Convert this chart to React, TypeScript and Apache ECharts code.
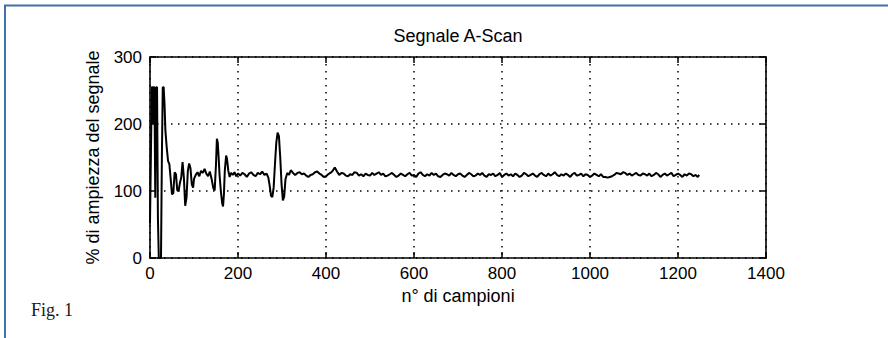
import React, { useEffect, useRef } from "react";
import * as echarts from "echarts";

const chartTitle = "Segnale A-Scan";
const xAxisName = "n° di campioni";
const yAxisName = "% di ampiezza del segnale";
const figureLabel = "Fig. 1";

const xTicks = { min: 0, max: 1400, interval: 200 };
const yTicks = { min: 0, max: 300, interval: 100 };

// sample index (n° di campioni)
const sampleIndex = [
  0, 2, 4, 6, 7, 8, 10, 12, 14, 16, 18, 20, 23, 25, 27, 29, 31, 33, 35, 38,
  41, 44, 47, 50, 53, 56, 59, 62, 65, 68, 71, 74, 77, 80, 83, 86, 89, 92, 95, 98,
  100, 104, 108, 112, 116, 120, 124, 128, 132, 136, 140, 144, 147, 150, 152, 154, 156, 158, 161, 164,
  166, 168, 170, 173, 175, 178, 181, 184, 188, 192, 196, 200, 205, 210, 215, 220, 225, 230, 235, 240,
  245, 250, 255, 260, 265, 269, 272, 275, 278, 281, 284, 287, 290, 293, 296, 299, 302, 305, 308, 312,
  316, 320, 325,
  330, 335, 340, 345, 350, 355, 360, 365, 370, 375, 380, 385, 390, 395, 400, 405, 410, 415, 420, 425,
  430, 435, 440, 445, 450, 455, 460, 465, 470, 475, 480, 485, 490, 495, 500, 505, 510, 515, 520, 525,
  530, 535, 540, 545, 550, 555, 560, 565, 570, 575, 580, 585, 590, 595, 600, 605, 610, 615, 620, 625,
  630, 635, 640, 645, 650, 655, 660, 665, 670, 675, 680, 685, 690, 695, 700, 705, 710, 715, 720, 725,
  730, 735, 740, 745, 750, 755, 760, 765, 770, 775, 780, 785, 790, 795, 800, 805, 810, 815, 820, 825,
  830, 835, 840, 845, 850, 855, 860, 865, 870, 875, 880, 885, 890, 895, 900, 905, 910, 915, 920, 925,
  930, 935, 940, 945, 950, 955, 960, 965, 970, 975, 980, 985, 990, 995, 1000, 1005, 1010, 1015, 1020, 1025,
  1030, 1035, 1040, 1045, 1050, 1055, 1060, 1065, 1070, 1075, 1080, 1085, 1090, 1095, 1100, 1105, 1110, 1115, 1120, 1125,
  1130, 1135, 1140, 1145, 1150, 1155, 1160, 1165, 1170, 1175, 1180, 1185, 1190, 1195, 1200, 1205, 1210, 1215, 1220, 1225,
  1230, 1235, 1240, 1245, 1248,
];

// % di ampiezza del segnale
const amplitude = [
  52, 150, 255, 255, 200, 255, 255, 90, 255, 255, 60, 0, 0, 0, 150, 255, 255, 230, 190, 165,
  145, 140, 118, 95, 97, 128, 125, 101, 100, 112, 120, 143, 120, 78, 90, 130, 141, 134, 110, 105,
  118, 124, 128, 122, 130, 127, 133, 126, 122, 129, 118, 104, 101, 140, 178, 172, 150, 125, 100, 82,
  77, 95, 130, 153, 148, 130, 121, 127, 124, 128, 122, 126, 123, 127, 125, 121, 126, 128, 124, 122,
  127, 125, 129, 124, 126, 120, 108, 93, 91, 105, 140, 172, 187, 182, 150, 110, 86, 92, 118, 127,
  124, 131, 127,
  124, 127, 128, 125, 126, 123, 121, 124, 125, 128, 129, 126, 124, 121, 122, 125, 127, 130, 135, 129,
  124, 127, 126, 123, 122, 125, 124, 128, 127, 123, 125, 122, 126, 124, 123, 127, 124, 126, 128, 124,
  126, 122, 123, 125, 127, 124, 121, 123, 126, 124, 122, 125, 127, 123, 124, 121, 126, 128, 124, 122,
  125, 123, 127, 124, 126, 122, 121, 124, 126, 125, 123, 127, 124, 122, 125, 126, 123, 121, 124, 127,
  125, 122, 123, 126, 124, 127, 123, 121, 125, 124, 126, 122, 124, 127, 121, 124, 126, 123, 125, 122,
  126, 124, 121, 123, 127, 125, 122, 124, 126, 123, 121, 125, 127, 124, 122, 126, 123, 125, 128, 124,
  122, 125, 123, 126, 124, 121, 125, 127, 123, 124, 126, 122, 125, 124, 121, 123, 126, 124, 122, 125,
  121, 121, 120, 121, 122, 124, 127, 126, 125, 128, 127, 124, 126, 123, 125, 127, 124, 123, 126, 125,
  123, 126, 122, 124, 127, 125, 121, 124, 126, 123, 125, 127, 122, 124, 126, 124, 121, 125, 123, 126,
  125, 122, 124, 121, 124,
];

const textFont = "'Liberation Sans', Arial, sans-serif";

export default function App() {
  const ref = useRef<HTMLDivElement>(null);

  useEffect(() => {
    if (!ref.current) return;
    const chart = echarts.init(ref.current, null, { renderer: "svg" });
    const points = sampleIndex.map((x, i) => [x, amplitude[i]]);
    const dotted = { color: "#000", width: 1.5, type: [1.5, 5.5] as number[] };
    const tickStyle = () => ({ show: true, inside: true, length: 6, lineStyle: { color: "#000", width: 1.5 } });
    const axisLine = () => ({ show: true, onZero: false, lineStyle: { color: "#000", width: 1.6 } });
    const plainLabel = (v: number) => String(v);
    chart.setOption({
      animation: false,
      backgroundColor: "#fff",
      title: {
        text: chartTitle,
        left: 458,
        top: 27,
        padding: 0,
        textAlign: "center",
        textStyle: { fontFamily: textFont, fontSize: 18, fontWeight: "normal", color: "#000" },
      },
      grid: { left: 150, right: 122, top: 57, bottom: 80, containLabel: false },
      xAxis: [
        {
          type: "value",
          position: "bottom",
          min: xTicks.min,
          max: xTicks.max,
          interval: xTicks.interval,
          name: xAxisName,
          nameLocation: "middle",
          nameGap: 28,
          nameTextStyle: { fontFamily: textFont, fontSize: 18, color: "#000" },
          axisLine: axisLine(),
          axisTick: tickStyle(),
          axisLabel: { fontFamily: textFont, fontSize: 17, color: "#000", margin: 7, formatter: plainLabel },
          splitLine: { show: true, lineStyle: dotted },
        },
        {
          type: "value",
          position: "top",
          min: xTicks.min,
          max: xTicks.max,
          interval: xTicks.interval,
          axisLine: axisLine(),
          axisTick: tickStyle(),
          axisLabel: { show: false },
          splitLine: { show: false },
        },
      ],
      yAxis: [
        {
          type: "value",
          position: "left",
          min: yTicks.min,
          max: yTicks.max,
          interval: yTicks.interval,
          name: yAxisName,
          nameLocation: "middle",
          nameGap: 48,
          nameTextStyle: { fontFamily: textFont, fontSize: 18, color: "#000" },
          axisLine: axisLine(),
          axisTick: tickStyle(),
          axisLabel: { fontFamily: textFont, fontSize: 17, color: "#000", margin: 8, formatter: plainLabel },
          splitLine: { show: true, lineStyle: dotted },
        },
        {
          type: "value",
          position: "right",
          min: yTicks.min,
          max: yTicks.max,
          interval: yTicks.interval,
          axisLine: axisLine(),
          axisTick: tickStyle(),
          axisLabel: { show: false },
          splitLine: { show: false },
        },
      ],
      graphic: [
        { type: "line", shape: { x1: 4, y1: 5.5, x2: 888, y2: 5.5 }, style: { stroke: "#3f72aa", lineWidth: 2 } },
        { type: "line", shape: { x1: 5, y1: 5, x2: 5, y2: 338 }, style: { stroke: "#3f72aa", lineWidth: 2 } },
        {
          type: "text",
          x: 31,
          y: 310,
          style: {
            text: figureLabel,
            fontFamily: "'Liberation Serif', 'Times New Roman', serif",
            fontSize: 18,
            fill: "#1a1a1a",
            verticalAlign: "middle",
          },
        },
      ],
      series: [
        {
          type: "line",
          xAxisIndex: 0,
          yAxisIndex: 0,
          data: points,
          showSymbol: false,
          symbol: "none",
          lineStyle: { color: "#000", width: 2 },
          z: 5,
        },
      ],
    });
    return () => chart.dispose();
  }, []);

  return (
    <div
      ref={ref}
      style={{ position: "fixed", left: 0, top: 0, width: 888, height: 338, background: "#fff" }}
    />
  );
}
